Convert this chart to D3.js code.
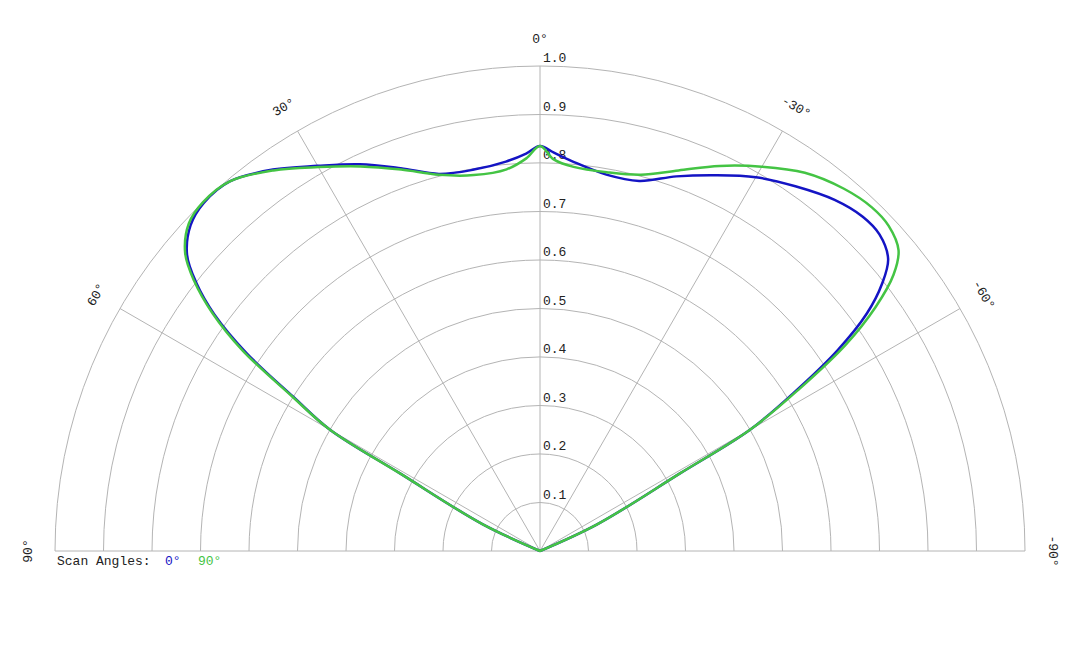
<!DOCTYPE html>
<html>
<head>
<meta charset="utf-8">
<script src="https://cdn.jsdelivr.net/npm/d3@7"></script>
<style>
  body { margin: 0; background: #fff; }
  text { font-family: "Courier New", "Liberation Mono", monospace; font-size: 13px; }
</style>
</head>
<body>
<div id="chart"></div>
<script>
// scan angle (deg), positive to the left
const angles = [90, 65, 61, 60, 58, 56, 54, 52, 50, 47, 44, 40, 35, 30, 25, 20, 15, 10, 5, 2, 0,
  -2, -5, -10, -15, -20, -25, -30, -35, -40, -44, -47, -50, -52, -54, -56, -58, -60, -61, -65, -90];

// relative value, scan angle 0°
const scan0 = [0, 0.13, 0.33, 0.50, 0.60, 0.73, 0.83, 0.90, 0.95, 0.985, 0.998, 0.995, 0.96, 0.917, 0.88, 0.84, 0.805, 0.798, 0.806, 0.82, 0.835,
  0.822, 0.805, 0.788, 0.79, 0.822, 0.855, 0.89, 0.918, 0.945, 0.958, 0.957, 0.937, 0.895, 0.833, 0.74, 0.62, 0.50, 0.33, 0.13, 0];

// relative value, scan angle 90°
const scan90 = [0, 0.13, 0.33, 0.50, 0.605, 0.74, 0.835, 0.905, 0.955, 0.99, 1.0, 0.995, 0.958, 0.914, 0.875, 0.837, 0.803, 0.787, 0.79, 0.81, 0.835,
  0.808, 0.795, 0.793, 0.803, 0.835, 0.876, 0.915, 0.952, 0.975, 0.985, 0.983, 0.965, 0.925, 0.855, 0.76, 0.63, 0.50, 0.33, 0.13, 0];

const ringValues = [0.1, 0.2, 0.3, 0.4, 0.5, 0.6, 0.7, 0.8, 0.9, 1.0];
const spokeAngles = [90, 60, 30, 0, -30, -60, -90];
const seriesNames = ["0°", "90°"];
const seriesColors = ["#1414c4", "#44c444"];

const width = 1080, height = 648;
const cx = 540, cy = 551, R = 485;

const svg = d3.select("#chart").append("svg")
    .attr("width", width)
    .attr("height", height);

const g = svg.append("g")
    .attr("transform", "translate(" + cx + "," + cy + ")");

const r = d3.scaleLinear().domain([0, 1]).range([0, R]);
const toRad = d => -d * Math.PI / 180;

// rings
g.selectAll(".ring")
    .data(ringValues)
    .enter().append("path")
    .attr("class", "ring")
    .attr("d", v => {
        const p = d3.path();
        p.moveTo(-r(v), 0);
        p.arc(0, 0, r(v), Math.PI, 2 * Math.PI);
        return p.toString();
    })
    .attr("fill", "none")
    .attr("stroke", "#b4b4b4")
    .attr("stroke-width", 1);

// spokes
g.selectAll(".spoke")
    .data(spokeAngles)
    .enter().append("line")
    .attr("class", "spoke")
    .attr("x1", 0).attr("y1", 0)
    .attr("x2", d => d3.pointRadial(toRad(d), R)[0])
    .attr("y2", d => d3.pointRadial(toRad(d), R)[1])
    .attr("stroke", "#b4b4b4")
    .attr("stroke-width", 1);

// radial labels
g.selectAll(".rlabel")
    .data(ringValues)
    .enter().append("text")
    .attr("class", "rlabel")
    .attr("x", 3)
    .attr("y", v => -r(v) - 4)
    .attr("fill", "#222")
    .text(d3.format(".1f"));

// angle labels
g.selectAll(".alabel")
    .data(spokeAngles)
    .enter().append("text")
    .attr("class", "alabel")
    .attr("transform", d => {
        const [x, y] = d3.pointRadial(toRad(d), 512);
        return "translate(" + x + "," + y + ") rotate(" + (-d) + ")";
    })
    .attr("text-anchor", "middle")
    .attr("dominant-baseline", "central")
    .attr("fill", "#222")
    .text(d => d + "°");

// curves
const line = d3.lineRadial()
    .angle(d => toRad(d[0]))
    .radius(d => r(d[1]))
    .curve(d3.curveCatmullRom.alpha(0.5));

[scan0, scan90].forEach((vals, i) => {
    g.append("path")
        .datum(angles.map((a, j) => [a, vals[j]]))
        .attr("d", line)
        .attr("fill", "none")
        .attr("stroke", seriesColors[i])
        .attr("stroke-width", 2.5)
        .attr("stroke-linejoin", "round");
});

// legend
const legend = svg.append("text")
    .attr("x", 57)
    .attr("y", 565);
legend.append("tspan").attr("fill", "#222").text("Scan Angles:");
seriesNames.forEach((n, i) => {
    legend.append("tspan")
        .attr("x", i === 0 ? 165 : 198)
        .attr("fill", seriesColors[i])
        .text(n);
});
</script>
</body>
</html>
